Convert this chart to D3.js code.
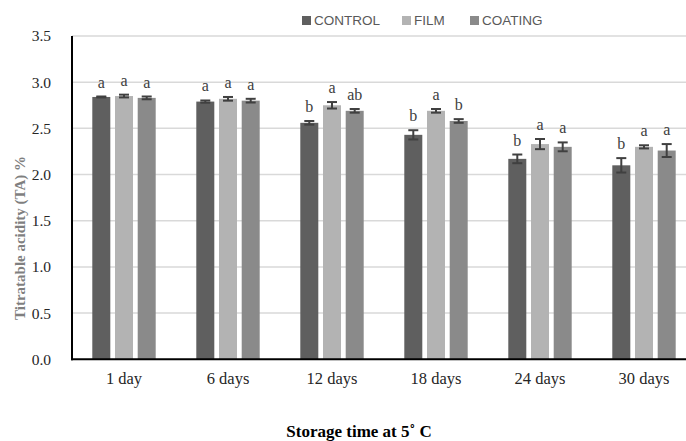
<!DOCTYPE html>
<html><head><meta charset="utf-8">
<script src="https://cdn.jsdelivr.net/npm/d3@7"></script>
<style>body{margin:0;background:#fff;overflow:hidden}svg{display:block}</style>
</head><body>
<script>
const categories = ["1 day","6 days","12 days","18 days","24 days","30 days"];
const series = ["CONTROL","FILM","COATING"];
const controlValues = [2.84,2.79,2.56,2.43,2.17,2.10];
const filmValues    = [2.85,2.82,2.75,2.69,2.33,2.30];
const coatingValues = [2.83,2.80,2.69,2.58,2.30,2.26];
const controlErr = [0.005,0.012,0.02,0.05,0.047,0.078];
const filmErr    = [0.015,0.02,0.035,0.02,0.055,0.017];
const coatingErr = [0.015,0.02,0.02,0.02,0.048,0.07];
const controlLetters = ["a","a","b","b","b","b"];
const filmLetters    = ["a","a","a","a","a","a"];
const coatingLetters = ["a","a","ab","b","a","a"];
const yTicks = [0,0.5,1.0,1.5,2.0,2.5,3.0,3.5];
const colors = {CONTROL:"#5f5f5f", FILM:"#b3b3b3", COATING:"#8a8a8a"};

const W=686,H=441;
const m={left:72,top:36,bottom:359.3,right:696};
const svg=d3.select("body").append("svg").attr("width",W).attr("height",H);

const x0=d3.scaleBand().domain(categories).range([m.left,m.right]);
const x1=d3.scaleBand().domain(series).range([0,63.4]).paddingInner(0.207);
const y=d3.scaleLinear().domain([0,3.5]).range([m.bottom,m.top]);

// gridlines
svg.append("g").selectAll("line").data(yTicks.filter(t=>t>0)).join("line")
  .attr("x1",m.left).attr("x2",W).attr("y1",d=>y(d)).attr("y2",d=>y(d))
  .attr("stroke","#d9d9d9").attr("stroke-width",1.5);

const valuesBy={CONTROL:controlValues,FILM:filmValues,COATING:coatingValues};
const errBy={CONTROL:controlErr,FILM:filmErr,COATING:coatingErr};
const letBy={CONTROL:controlLetters,FILM:filmLetters,COATING:coatingLetters};
const data=[];
categories.forEach((c,i)=>series.forEach(s=>data.push({c,s,v:valuesBy[s][i],e:errBy[s][i],l:letBy[s][i]})));
const bx=d=>x0(d.c)+x0.bandwidth()/2-31.7+x1(d.s);

svg.append("g").selectAll("rect").data(data).join("rect")
  .attr("x",bx).attr("width",x1.bandwidth())
  .attr("y",d=>y(d.v)).attr("height",d=>y(0)-y(d.v))
  .attr("fill",d=>colors[d.s]);

const eg=svg.append("g").attr("stroke","#404040").attr("stroke-width",2);
data.forEach(d=>{
  const cx=bx(d)+x1.bandwidth()/2;
  eg.append("line").attr("x1",cx).attr("x2",cx).attr("y1",y(d.v-d.e)).attr("y2",y(d.v+d.e));
  eg.append("line").attr("x1",cx-5).attr("x2",cx+5).attr("y1",y(d.v-d.e)).attr("y2",y(d.v-d.e));
  eg.append("line").attr("x1",cx-5).attr("x2",cx+5).attr("y1",y(d.v+d.e)).attr("y2",y(d.v+d.e));
});

svg.append("g").selectAll("text").data(data).join("text")
  .attr("x",d=>bx(d)+x1.bandwidth()/2).attr("y",d=>y(d.v+d.e)-9)
  .attr("text-anchor","middle").attr("font-family","Liberation Serif").attr("font-size",16)
  .attr("fill","#404040").text(d=>d.l);

// axes
const ya=svg.append("g").attr("transform",`translate(${m.left},0)`)
  .call(d3.axisLeft(y).tickValues(yTicks).tickSize(0).tickPadding(21).tickFormat(d3.format(".1f")));
ya.select(".domain").remove();
ya.selectAll("text").attr("font-family","Liberation Serif").attr("font-size",15.5).attr("fill","#262626");

const xa=svg.append("g").attr("transform",`translate(0,${m.bottom})`)
  .call(d3.axisBottom(x0).tickSize(0).tickPadding(13));
xa.select(".domain").remove();
xa.selectAll("text").attr("font-family","Liberation Serif").attr("font-size",16.5).attr("fill","#262626");

svg.append("line").attr("x1",m.left).attr("x2",m.left).attr("y1",m.top).attr("y2",m.bottom+1)
  .attr("stroke","#000").attr("stroke-width",2);
svg.append("line").attr("x1",m.left-1).attr("x2",W).attr("y1",m.bottom).attr("y2",m.bottom)
  .attr("stroke","#000").attr("stroke-width",2);

// legend
const legX=[302,402,470];
series.forEach((s,i)=>{
  svg.append("rect").attr("x",legX[i]).attr("y",16).attr("width",9).attr("height",9).attr("fill",colors[s]);
  svg.append("text").attr("x",legX[i]+12).attr("y",25).attr("font-family","Liberation Sans")
    .attr("font-size",13.5).attr("fill","#595959").text(s);
});

// titles
svg.append("text").attr("transform","translate(25,238) rotate(-90)").attr("text-anchor","middle")
  .attr("font-family","Liberation Serif").attr("font-weight","bold").attr("font-size",15)
  .attr("fill","#7f7f7f").text("Titratable acidity  (TA) %");
svg.append("text").attr("x",359).attr("y",437).attr("text-anchor","middle")
  .attr("font-family","Liberation Serif").attr("font-weight","bold").attr("font-size",17)
  .attr("fill","#000").text("Storage time at 5˚ C");
</script>
</body></html>
